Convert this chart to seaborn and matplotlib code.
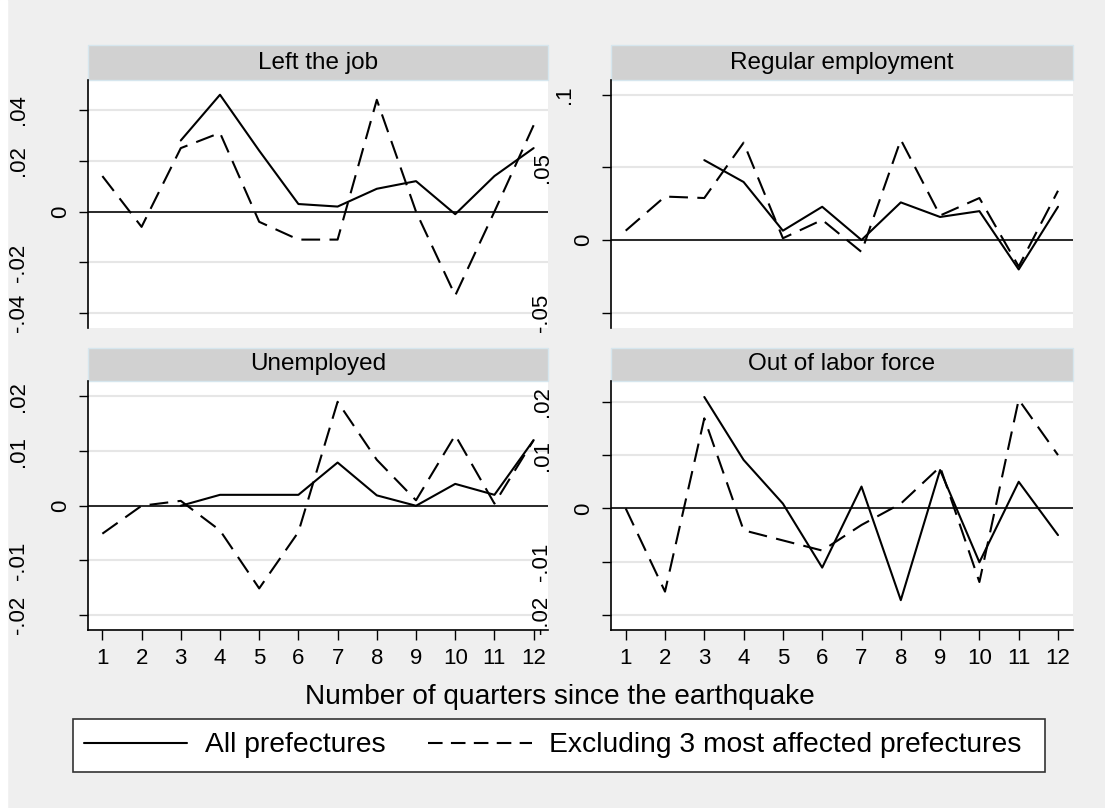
import numpy as np
import pandas as pd
import matplotlib.pyplot as plt
import seaborn as sns
from matplotlib.lines import Line2D
from matplotlib.patches import Rectangle

# values, quarter 1..12 (solid series starts at quarter 3)
quarters = list(range(1, 13))
panels = ['Left the job', 'Regular employment', 'Unemployed', 'Out of labor force']
series = ['All prefectures', 'Excluding 3 most affected prefectures']
nan = np.nan

left_all = [nan, nan, 0.028, 0.046, 0.024, 0.003, 0.002, 0.009, 0.012, -0.001, 0.014, 0.025]
left_excl = [0.014, -0.006, 0.025, 0.031, -0.004, -0.011, -0.011, 0.044, 0.0, -0.033, 0.0, 0.034]
regular_all = [nan, nan, 0.055, 0.040, 0.0066, 0.023, 0.0002, 0.026, 0.016, 0.020, -0.020, 0.023]
regular_excl = [0.0066, 0.030, 0.029, 0.067, 0.0014, 0.014, -0.008, 0.069, 0.017, 0.029, -0.018, 0.034]
unemp_all = [nan, nan, 0.0, 0.002, 0.002, 0.002, 0.0079, 0.0019, 0.0, 0.004, 0.002, 0.012]
unemp_excl = [-0.0051, 0.0, 0.0009, -0.0045, -0.0151, -0.0048, 0.019, 0.0084, 0.001, 0.0129, 0.0004, 0.012]
olf_all = [nan, nan, 0.0209, 0.0091, 0.0009, -0.0111, 0.0041, -0.0172, 0.0072, -0.0101, 0.005, -0.005]
olf_excl = [0.0, -0.0156, 0.0169, -0.0041, -0.006, -0.0079, -0.0031, 0.0009, 0.0078, -0.0138, 0.0204, 0.010]

left_ticks = [-0.04, -0.02, 0, 0.02, 0.04]
left_labels = ['-.04', '-.02', '0', '.02', '.04']
regular_ticks = [-0.05, 0, 0.05, 0.1]
regular_labels = ['-.05', '0', '.05', '.1']
small_ticks = [-0.02, -0.01, 0, 0.01, 0.02]
small_labels = ['-.02', '-.01', '0', '.01', '.02']

values = {
    'Left the job': (left_all, left_excl),
    'Regular employment': (regular_all, regular_excl),
    'Unemployed': (unemp_all, unemp_excl),
    'Out of labor force': (olf_all, olf_excl),
}
ticks = {
    'Left the job': (left_ticks, left_labels),
    'Regular employment': (regular_ticks, regular_labels),
    'Unemployed': (small_ticks, small_labels),
    'Out of labor force': (small_ticks, small_labels),
}
ylims = {
    'Left the job': (-0.0459, 0.0518),
    'Regular employment': (-0.0604, 0.110),
    'Unemployed': (-0.0227, 0.0228),
    'Out of labor force': (-0.0228, 0.0239),
}

rows = []
for p in panels:
    for s, vals in zip(series, values[p]):
        for q, v in zip(quarters, vals):
            if not np.isnan(v):
                rows.append({'panel': p, 'series': s, 'quarter': q, 'value': v})
df = pd.DataFrame(rows)

sns.set_theme(style='white')
plt.rcParams['font.family'] = ['Liberation Sans', 'DejaVu Sans']
plt.rcParams.update({'text.color': 'black', 'xtick.color': 'black',
                     'ytick.color': 'black', 'axes.labelcolor': 'black'})

W, H = 1105, 808
bg = '#EFEFEF'
fig = plt.figure(figsize=(W / 100, H / 100), dpi=100, facecolor=bg)
fig.patches.append(Rectangle((0, 0), 7 / W, 1, transform=fig.transFigure, color='white', zorder=-1))

# pixel boxes: (left, top, right, bottom), strip top
boxes = {
    'Left the job': (87.7, 80, 548.3, 328.3, 45),
    'Regular employment': (611, 80, 1072.7, 328.3, 45),
    'Unemployed': (87.7, 381, 548.3, 630, 347.7),
    'Out of labor force': (611, 381, 1072.7, 630, 347.7),
}
label_offset = {'0': 27, '.1': 47}  # stata pushes longer rotated labels further out
dash_map = {series[0]: '', series[1]: (9, 4.5)}

for i, p in enumerate(panels):
    x0, y0, x1, y1, st = boxes[p]
    ax = fig.add_axes([x0 / W, 1 - y1 / H, (x1 - x0) / W, (y1 - y0) / H])
    ax.set_facecolor('white')
    sub = df[df['panel'] == p]
    sns.lineplot(data=sub, x='quarter', y='value', style='series', style_order=series,
                 dashes=dash_map, color='black', linewidth=1.5, estimator=None,
                 legend=False, ax=ax, zorder=3)
    ax.axhline(0, color='#1a1a1a', lw=1.3, zorder=2)
    ax.set_xlim(0.626, 12.374)
    ax.set_ylim(*ylims[p])
    tv, tl = ticks[p]
    ax.set_yticks(tv)
    ax.set_yticklabels(tl)
    ax.yaxis.grid(True, color='#E6E6E6', lw=1.5)
    ax.set_axisbelow(True)
    ax.set_xlabel('')
    ax.set_ylabel('')
    for sp in ['top', 'right']:
        ax.spines[sp].set_visible(False)
    ax.spines['left'].set_color('black')
    ax.spines['left'].set_linewidth(1.2)
    ax.tick_params(axis='y', length=6.5, width=1, color='black', labelcolor='black',
                   labelsize=16, labelrotation=90, left=True)
    for tick, lab in zip(ax.yaxis.get_major_ticks(), tl):
        off = label_offset.get(lab, 69) * 0.72
        tick.set_pad(off - 6.5)
        tick.label1.set_ha('center')
        tick.label1.set_va('center')
    if i < 2:
        ax.spines['bottom'].set_visible(False)
        ax.set_xticks([])
    else:
        ax.spines['bottom'].set_color('black')
        ax.spines['bottom'].set_linewidth(1.2)
        ax.set_xticks(quarters)
        ax.set_xticklabels([str(q) for q in quarters])
        ax.tick_params(axis='x', length=7.2, width=1, color='black', labelcolor='black',
                       labelsize=16, pad=5.5, bottom=True)
    # strip title
    h = (y0 - st) / (y1 - y0)
    ax.add_patch(Rectangle((0, 1), 1, h, transform=ax.transAxes, clip_on=False,
                           facecolor='#D1D1D1', edgecolor='#D6E6EE', lw=1))
    ax.text(0.5, 1 + h / 2, p, transform=ax.transAxes, ha='center', va='center',
            fontsize=17.5, color='black')

fig.text(560 / W, 1 - 697 / H, 'Number of quarters since the earthquake',
         ha='center', va='center', fontsize=20.2, color='black')

# legend frame drawn at the reference box, entries placed inside it
fig.patches.append(Rectangle((72.6 / W, 1 - 772 / H), (1045 - 72.6) / W, 53 / H,
                             transform=fig.transFigure, facecolor='white',
                             edgecolor='#333333', lw=1.2))
handles = [Line2D([], [], color='black', lw=1.5),
           Line2D([], [], color='black', lw=1.5, dashes=(7, 4))]
leg = fig.legend(handles, series, loc='center', bbox_to_anchor=(552.5 / W, 1 - 745.5 / H),
                 ncol=2, fontsize=20.3, frameon=False, handlelength=3.68,
                 handletextpad=0.62, columnspacing=1.5, borderpad=0.45)

fig.savefig('out.png', dpi=100, facecolor=bg)
